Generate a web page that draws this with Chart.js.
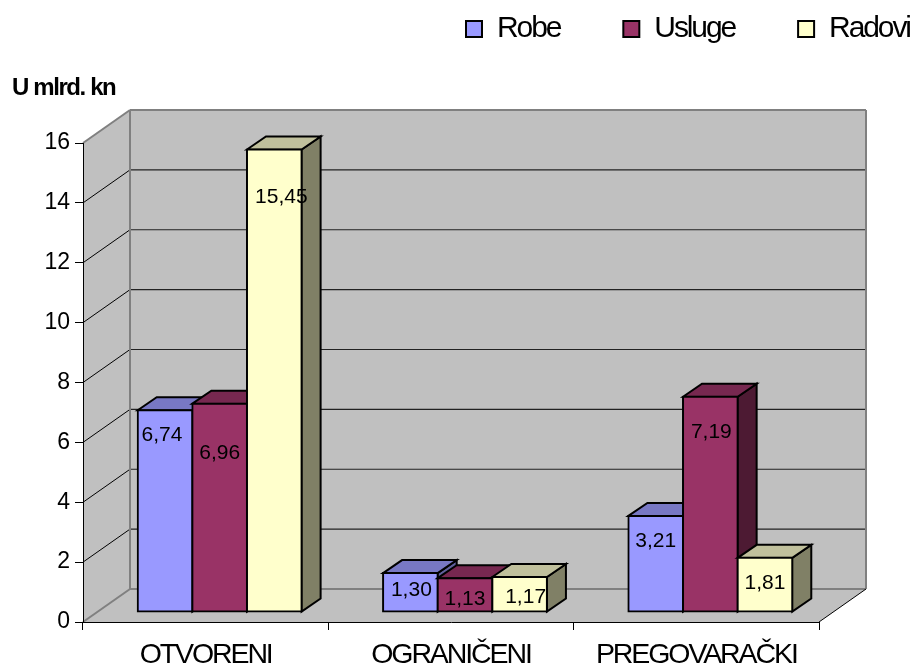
<!DOCTYPE html>
<html>
<head>
<meta charset="utf-8">
<style>
body { margin: 0; background: #fff; }
canvas { display: block; }
</style>
</head>
<body>
<canvas id="chart" width="912" height="668"></canvas>
<script src="https://cdn.jsdelivr.net/npm/chart.js@4"></script>
<script>
const categories = ["OTVORENI", "OGRANIČENI", "PREGOVARAČKI"];
const robe = [6.74, 1.30, 3.21];
const usluge = [6.96, 1.13, 7.19];
const radovi = [15.45, 1.17, 1.81];
const yTitle = "U mlrd. kn";

// label nudges from the bar's centre / top, the original has them all over the place
const labelShift = [
    [[-3, 25], [1, 17], [0, 25]],
    [[0, 50], [0, 21], [1, 35]],
    [[7, 48], [6, 20], [0, 25]],
];

const FONT = "'Liberation Sans', Arial, sans-serif";
const WALL_DX = 47, WALL_DY = -33;  // back wall offset
const BAR_DX = 14, BAR_DY = -10;    // bars stand in the middle of the floor
const BAR_DEPTH_X = 19, BAR_DEPTH_Y = -13;
const TIGHT = "-2.1px";

const faces = [
    { front: "#9999ff", top: "#7878c4", side: "#60609c" },
    { front: "#993366", top: "#772850", side: "#4d1a33" },
    { front: "#ffffcc", top: "#c0c09c", side: "#808066" },
];

function poly(ctx, pts, fill, stroke, lw) {
    ctx.beginPath();
    pts.forEach((p, i) => i ? ctx.lineTo(p[0], p[1]) : ctx.moveTo(p[0], p[1]));
    ctx.closePath();
    if (fill) {
        ctx.fillStyle = fill;
        ctx.fill();
    }
    if (stroke) {
        ctx.strokeStyle = stroke;
        ctx.lineWidth = lw;
        ctx.stroke();
    }
}

function line(ctx, x1, y1, x2, y2, color, lw) {
    ctx.beginPath();
    ctx.moveTo(x1, y1);
    ctx.lineTo(x2, y2);
    ctx.strokeStyle = color;
    ctx.lineWidth = lw;
    ctx.stroke();
}

const box3d = {
    id: "box3d",
    beforeLayout(chart) {
        chart.ctx.letterSpacing = TIGHT;
    },
    afterLayout(chart) {
        // the legend sits above the frame, free of the plot's right edge
        const lg = chart.legend;
        lg.right = 466 + lg.lineWidths[0];
        lg.top = -49;
        lg.bottom = lg.top + lg.height;
    },
    beforeDraw(chart) {
        const ctx = chart.ctx;
        const { left, right, top, bottom } = chart.chartArea;
        ctx.letterSpacing = TIGHT;
        ctx.fillStyle = "#fff";
        ctx.fillRect(0, 0, chart.width, chart.height);

        const bl = left + WALL_DX, br = right + WALL_DX, bt = top + WALL_DY, bb = bottom + WALL_DY;
        poly(ctx, [[left, top], [bl, bt], [bl, bb], [left, bottom]], "#c0c0c0");
        poly(ctx, [[bl, bt], [br, bt], [br, bb], [bl, bb]], "#c0c0c0");
        poly(ctx, [[left, bottom], [bl, bb], [br, bb], [right, bottom]], "#c0c0c0");

        // gridlines run across the side wall then the back wall
        chart.scales.y.ticks.forEach(t => {
            if (t.value === 0 || t.value === 16) return;
            const y = chart.scales.y.getPixelForValue(t.value);
            line(ctx, left, y, bl, y + WALL_DY, "#000", 1);
            line(ctx, bl, y + WALL_DY, br, y + WALL_DY, "#222", 1.2);
        });

        line(ctx, left, top, bl, bt, "#808080", 2);
        line(ctx, bl, bt, br, bt, "#808080", 2);
        line(ctx, bl, bt, bl, bb, "#808080", 2);
        line(ctx, br, bt, br, bb, "#808080", 2);
        line(ctx, left, bottom, bl, bb, "#808080", 2);
        line(ctx, bl, bb, br, bb, "#808080", 2);
        line(ctx, right, bottom, br, bb, "#000", 1);
    },
    // paint Robe -> Radovi so the right hand bar covers its neighbour, Chart.js goes the other way
    beforeDatasetsDraw(chart) {
        const ctx = chart.ctx;
        ctx.letterSpacing = "0px";
        chart.data.datasets.forEach((ds, i) => {
            const meta = chart.getDatasetMeta(i);
            const c = faces[i];
            ctx.save();
            ctx.translate(BAR_DX, BAR_DY);
            meta.data.forEach(bar => {
                const x0 = bar.x - bar.width / 2, x1 = bar.x + bar.width / 2;
                const yT = bar.y, yB = bar.base;
                poly(ctx, [[x1, yT], [x1 + BAR_DEPTH_X, yT + BAR_DEPTH_Y], [x1 + BAR_DEPTH_X, yB + BAR_DEPTH_Y], [x1, yB]], c.side, "#000", 2);
                poly(ctx, [[x0, yT], [x0 + BAR_DEPTH_X, yT + BAR_DEPTH_Y], [x1 + BAR_DEPTH_X, yT + BAR_DEPTH_Y], [x1, yT]], c.top, "#000", 2);
            });
            meta.controller.draw();
            ctx.restore();
        });

        ctx.font = "21px " + FONT;
        ctx.fillStyle = "#000";
        ctx.textAlign = "center";
        ctx.textBaseline = "middle";
        chart.data.datasets.forEach((ds, i) => {
            chart.getDatasetMeta(i).data.forEach((bar, j) => {
                const s = labelShift[i][j];
                ctx.fillText(ds.data[j].toFixed(2).replace(".", ","), bar.x + BAR_DX + s[0], bar.y + BAR_DY + s[1]);
            });
        });
        ctx.font = "bold 24px " + FONT;
        ctx.letterSpacing = "-1.4px";
        ctx.textAlign = "left";
        ctx.fillText(yTitle, 12, 88);
        ctx.letterSpacing = "0px";
        return false;
    },
};

function fmtDataset(label, data, i) {
    return {
        label: label,
        data: data,
        backgroundColor: faces[i].front,
        borderColor: "#000",
        borderWidth: 2,
        borderSkipped: false,
        inflateAmount: 1,
        categoryPercentage: 0.668,
        barPercentage: 1,
    };
}

new Chart(document.getElementById("chart"), {
    type: "bar",
    data: {
        labels: categories,
        datasets: [
            fmtDataset("Robe", robe, 0),
            fmtDataset("Usluge", usluge, 1),
            fmtDataset("Radovi", radovi, 2),
        ],
    },
    plugins: [box3d],
    options: {
        responsive: false,
        animation: false,
        layout: { padding: { left: 0, top: 40, right: 93, bottom: 0 } },
        plugins: {
            tooltip: { enabled: false },
            legend: {
                position: "top",
                align: "end",
                labels: {
                    boxWidth: 16,
                    boxHeight: 16,
                    padding: 63,
                    color: "#000",
                    font: { family: FONT, size: 30 },
                },
            },
        },
        scales: {
            x: {
                afterFit: s => { s.height = 46; },
                border: { color: "#000", width: 1 },
                grid: { drawOnChartArea: false, color: "#000", tickColor: "#000", tickLength: 8 },
                ticks: {
                    color: "#000",
                    font: { family: FONT, size: 28.5 },
                    maxRotation: 0,
                    autoSkip: false,
                    padding: 8,
                },
            },
            y: {
                min: 0,
                max: 16,
                afterFit: s => { s.width = 83; },
                border: { color: "#000", width: 1 },
                grid: { drawOnChartArea: false, color: "#000", tickColor: "#000", tickLength: 8 },
                ticks: {
                    stepSize: 2,
                    color: "#000",
                    font: { family: FONT, size: 23 },
                    padding: 5,
                    z: 1,
                },
            },
        },
    },
});
</script>
</body>
</html>
